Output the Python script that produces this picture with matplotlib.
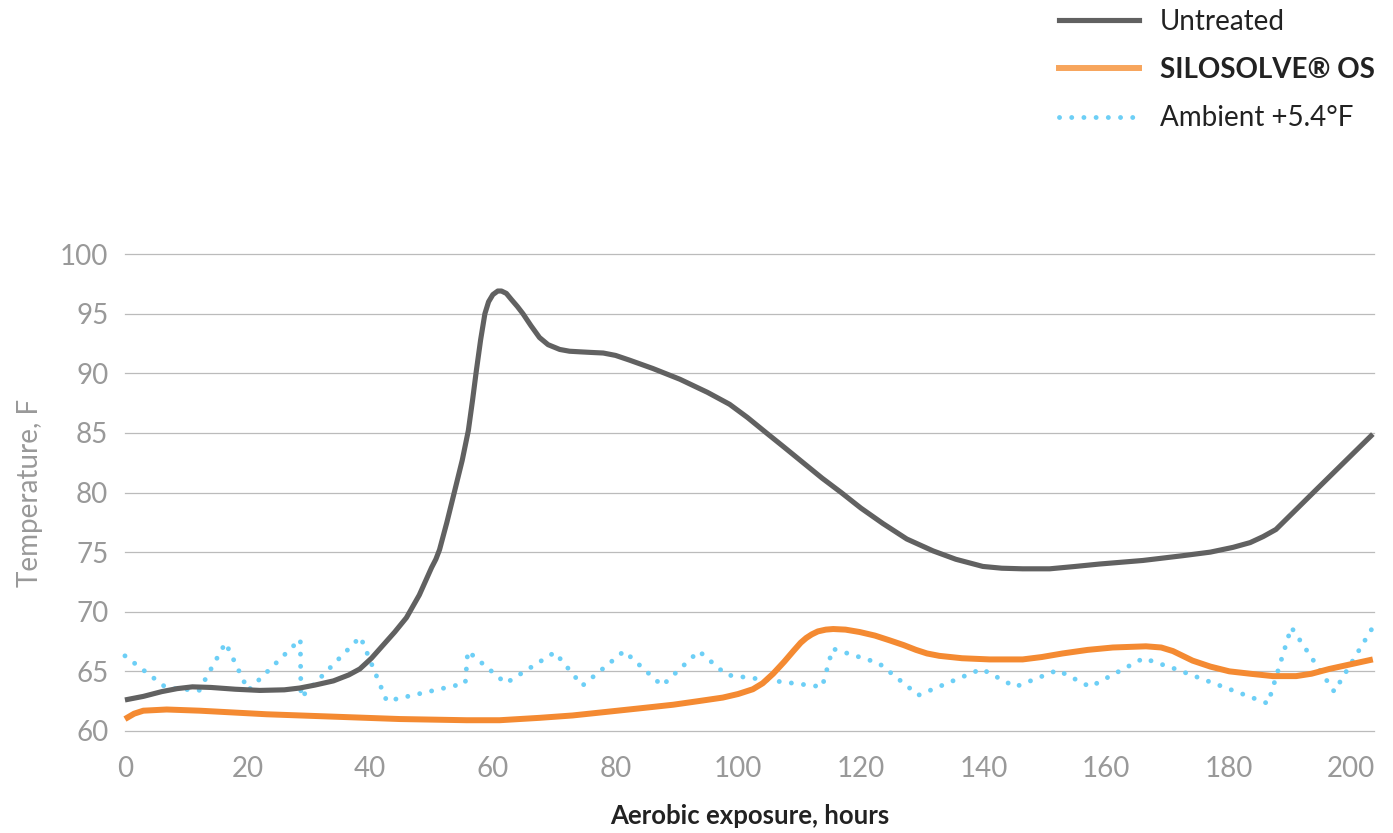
import numpy as np
from matplotlib import pyplot as plt
from matplotlib.lines import Line2D

plt.rcParams['font.family'] = ['Lato', 'DejaVu Sans']

# Untreated silage temperature (hours, F)
untreated_h = [0, 3, 6, 8.5, 11, 14, 18, 22, 26, 28.5, 31, 34, 36.5, 38.3, 40.2, 42.1, 44, 45.9,
               48, 50.0, 50.7, 51.3, 52.5, 53.8, 55.0, 56.0, 56.7, 57.3, 58.0, 58.7, 59.3,
               60.0, 60.8, 61.4, 62.2, 63.0, 64.0, 64.9, 66.2, 67.6, 69.0, 70.9, 72.5, 74.2,
               76, 78.0, 80, 82.3, 86.1, 90.5, 95, 98.6, 101.5, 104.6, 107.5, 110.6, 113.7,
               116.8, 120, 123.6, 127.5, 131.8, 135.5, 139.9, 143, 146.4, 150.8, 155, 158.9,
               166, 172.5, 177, 180.7, 183.5, 185.6, 187.7, 194.2, 203.5]
untreated_t = [62.6, 62.9, 63.3, 63.55, 63.7, 63.65, 63.5, 63.4, 63.45, 63.6, 63.85, 64.2, 64.7,
               65.2, 66.1, 67.2, 68.3, 69.5, 71.4, 73.7, 74.4, 75.2, 77.5, 80.2, 82.7, 85.2,
               87.8, 90.2, 92.8, 95.0, 96.0, 96.6, 96.9, 96.9, 96.7, 96.2, 95.6, 95.0, 94.0,
               93.0, 92.4, 92.0, 91.85, 91.8, 91.75, 91.7, 91.5, 91.1, 90.4, 89.5, 88.4, 87.4,
               86.3, 85.0, 83.8, 82.5, 81.2, 80.0, 78.7, 77.4, 76.1, 75.1, 74.4, 73.8, 73.65,
               73.6, 73.6, 73.8, 74.0, 74.3, 74.7, 75.0, 75.4, 75.8, 76.3, 76.9, 80.2, 84.9]

# SILOSOLVE OS treated silage
treated_h = [0, 1.5, 3, 6.8, 12.2, 23.1, 34, 44.8, 55.7, 61.1, 67.6, 73, 78.5, 84, 89.4, 93.5,
             97.5, 100, 102.4, 104, 105.7, 107.5, 109, 110.2, 111.1, 112, 113, 114.3, 115.5,
             117.5, 119.8, 122.3, 124.7, 127, 129.0, 130.8, 132.8, 136.5, 141, 146.4, 149.5,
             152.9, 157, 161.1, 166.5, 169, 170.9, 172.5, 174.1, 177, 180.1, 183.5, 187.2,
             191.0, 193.5, 196.4, 203.5]
treated_t = [61.0, 61.45, 61.7, 61.8, 61.7, 61.4, 61.2, 61.0, 60.9, 60.9, 61.1, 61.3, 61.6,
             61.9, 62.2, 62.5, 62.8, 63.1, 63.5, 64.0, 64.8, 65.8, 66.7, 67.4, 67.8, 68.1,
             68.35, 68.5, 68.55, 68.5, 68.3, 68.0, 67.6, 67.2, 66.8, 66.5, 66.3, 66.1, 66.0,
             66.0, 66.2, 66.5, 66.8, 67.0, 67.1, 67.0, 66.7, 66.3, 65.9, 65.4, 65.0, 64.8,
             64.6, 64.6, 64.8, 65.2, 66.0]

# Ambient temperature + 5.4F
ambient_h = [0, 6.8, 12.1, 16.4, 20.1, 28.6, 28.7, 38.4, 42.7, 55.5, 55.9, 62.1, 70.1, 74.6,
             81.4, 87.6, 93.6, 98.1, 113.7, 115.4, 122.9, 129.4, 139.7, 145.2, 152.1, 157.4,
             166.1, 171.3, 186.4, 190.2, 197.2, 203.5]
ambient_t = [66.3, 63.6, 63.4, 67.4, 63.4, 67.7, 62.8, 67.9, 62.5, 64.0, 66.7, 64.0, 66.6, 63.8,
             66.7, 63.8, 66.7, 64.7, 63.7, 66.9, 65.7, 63.0, 65.2, 63.7, 65.1, 63.7,
             66.1, 65.2, 62.3, 68.7, 63.3, 68.7]

labels = ['Untreated', 'SILOSOLVE® OS', 'Ambient +5.4°F']
yticks = [60, 65, 70, 75, 80, 85, 90, 95, 100]
xticks = [0, 20, 40, 60, 80, 100, 120, 140, 160, 180, 200]

gray = '#616161'
orange = '#F48A32'
blue = '#6DCFF6'
dots = (0, (0.01, 2.5))

fig = plt.figure(figsize=(13.93, 8.33), dpi=100)
ax = fig.add_axes([0.0897, 0.1225, 0.8967, 0.5725])

ax.plot(ambient_h, ambient_t, color=blue, lw=3.5, linestyle=dots,
        dash_capstyle='round', clip_on=False, zorder=3)
ax.plot(treated_h, treated_t, color=orange, lw=4.3, solid_capstyle='butt',
        solid_joinstyle='round', clip_on=False, zorder=4)
ax.plot(untreated_h, untreated_t, color=gray, lw=3.7, solid_capstyle='butt',
        solid_joinstyle='round', clip_on=False, zorder=5)

ax.set_xlim(0, 203.7)
ax.set_ylim(60, 100)
ax.set_yticks(yticks)
ax.set_xticks(xticks)
ax.grid(axis='y', color='#bbbbbb', lw=0.9)
for gl in ax.get_ygridlines():
    gl.set_clip_on(False)
ax.set_axisbelow(True)
for s in ax.spines.values():
    s.set_visible(False)
ax.tick_params(axis='both', length=0, labelsize=20, labelcolor='#999999')
ax.tick_params(axis='y', pad=12)
ax.tick_params(axis='x', pad=18)

ax.set_ylabel('Temperature, F', fontsize=20, color='#999999', labelpad=12)
ax.set_xlabel('Aerobic exposure, hours', fontsize=18.5, fontweight='bold', color='#222222',
              labelpad=16)

# Legend with custom handles
handles = [Line2D([], [], color=gray, lw=3.7),
           Line2D([], [], color='#F7A55C', lw=4.3),
           Line2D([], [], color=blue, lw=3.5, linestyle=dots, dash_capstyle='round')]
leg = fig.legend(handles, labels, loc='upper right', bbox_to_anchor=(0.997, 1.006),
                 frameon=False, fontsize=20, handlelength=2.9, handletextpad=0.75,
                 labelspacing=0.8, borderpad=0)
for t in leg.get_texts():
    t.set_color('#222222')
leg.get_texts()[1].set_fontweight('bold')

plt.savefig('out.png', dpi=100)
